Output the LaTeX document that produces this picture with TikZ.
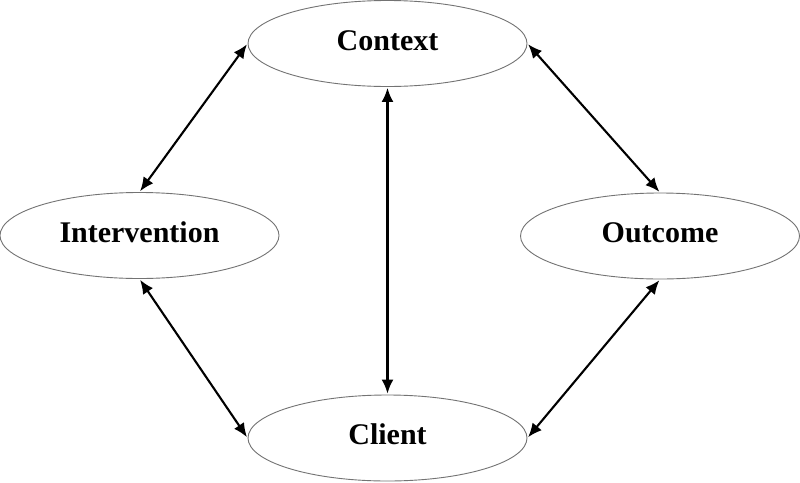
\documentclass[tikz,border=0pt]{standalone}
\usepackage{fontspec}
\setmainfont{Liberation Serif}
\usetikzlibrary{shapes.geometric,arrows.meta}
\tikzset{
  oval/.style={ellipse, draw=black!55, line width=0.9pt, fill=white,
    minimum width=279pt, minimum height=86pt, inner sep=0pt,
    text height=21pt, text depth=8pt,
    font=\fontsize{30}{36}\selectfont\bfseries},
  link/.style={line width=2.1pt, {Latex[length=14pt,width=12pt]}-{Latex[length=14pt,width=12pt]}, shorten <=1pt, shorten >=1pt}
}
\begin{document}
\begin{tikzpicture}[x=1pt,y=-1pt]
\useasboundingbox (0,0) rectangle (800,482);
\node[oval] (ctx) at (387.5,43.5) {Context};
\node[oval] (int) at (139.5,235.5) {Intervention};
\node[oval] (out) at (660,236) {Outcome};
\node[oval] (cli) at (387.5,438) {Client};
\draw[link] (ctx.west) -- (int.north);
\draw[link] (ctx.east) -- (out.north);
\draw[link] (ctx.south) -- (cli.north);
\draw[link] (int.south) -- (cli.west);
\draw[link] (out.south) -- (cli.east);
\end{tikzpicture}
\end{document}
